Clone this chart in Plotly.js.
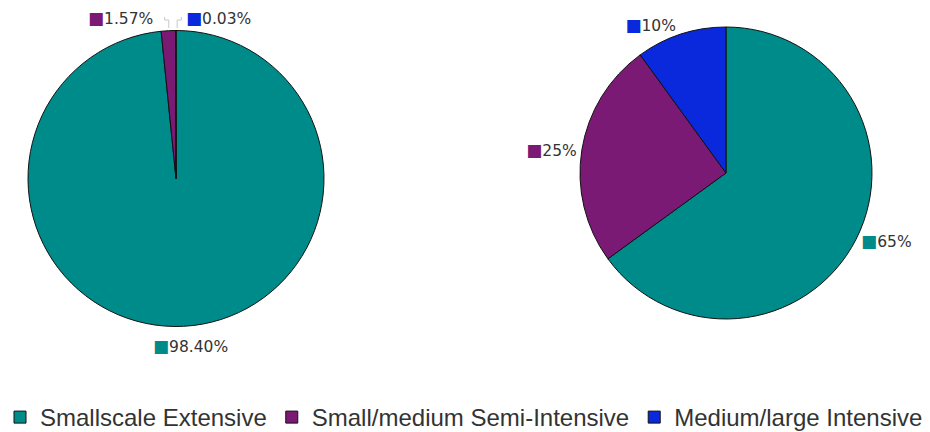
<!DOCTYPE html>
<html><head><meta charset="utf-8">
<script src="https://cdn.plot.ly/plotly-3.0.1.min.js"></script>
<style>html,body{margin:0;padding:0;background:#fff;overflow:hidden}</style>
</head><body><div id="chart" style="width:930px;height:440px"></div>
<script>
const categories = ["Smallscale Extensive", "Small/medium Semi-Intensive", "Medium/large Intensive"];
const leftValues = [98.40, 1.57, 0.03];
const rightValues = [65, 25, 10];
const colors = ["#008b8b", "#7a1a74", "#0a28dc"];

function sq(c){ return '<span style="color:' + c + ';font-size:17px">■</span>'; }
const rightTemplate = colors.map(c => sq(c) + '%{value}%');
const labelFont = {family: 'DejaVu Sans', size: 15.5, color: '#333'};

const common = {
  type: 'pie', labels: categories, sort: false, direction: 'clockwise', rotation: 0,
  marker: {colors: colors, line: {color: '#111', width: 1}},
  textfont: labelFont, outsidetextfont: labelFont,
  hoverinfo: 'label+percent'
};
const data = [
  Object.assign({}, common, {values: leftValues, textinfo: 'none',
    domain: {x: [0.03011, 0.34839], y: [0.25682, 0.93182]}}),
  Object.assign({}, common, {values: rightValues, texttemplate: rightTemplate, textinfo: 'text',
    textposition: 'outside', showlegend: false,
    domain: {x: [0.62366, 0.93763], y: [0.27500, 0.93864]}})
];
// left pie labels (placed like the reference: tiny slices side by side above the pie)
const annPos = [[0.1624, 0.21364], [0.093, 0.95909], [0.1975, 0.95909]];
const annotations = leftValues.map((v, i) => ({
  xref: 'paper', yref: 'paper', x: annPos[i][0], y: annPos[i][1], xanchor: 'left', yanchor: 'middle',
  showarrow: false, text: sq(colors[i]) + v.toFixed(2) + '%',
  font: labelFont
}));
const shapes = [
  {type: 'path', xref: 'paper', yref: 'paper', path: 'M 0.1815,0.9364 L 0.1815,0.9545 L 0.177,0.9545 L 0.177,0.9614', line: {color: '#c8c8c8', width: 1}},
  {type: 'path', xref: 'paper', yref: 'paper', path: 'M 0.1905,0.9364 L 0.1905,0.9545 L 0.195,0.9545 L 0.195,0.9614', line: {color: '#c8c8c8', width: 1}}
];
const layout = {
  width: 930, height: 440, margin: {l: 0, r: 0, t: 0, b: 0},
  paper_bgcolor: '#fff', plot_bgcolor: '#fff',
  showlegend: true, annotations: annotations, shapes: shapes,
  legend: {orientation: 'h', x: 0.0, xanchor: 'left', y: 0, yanchor: 'bottom',
    font: {family: 'Liberation Sans', size: 24, color: '#333'}, itemwidth: 30, tracegroupgap: 0}
};
Plotly.newPlot('chart', data, layout, {displayModeBar: false, staticPlot: true});
</script></body></html>
